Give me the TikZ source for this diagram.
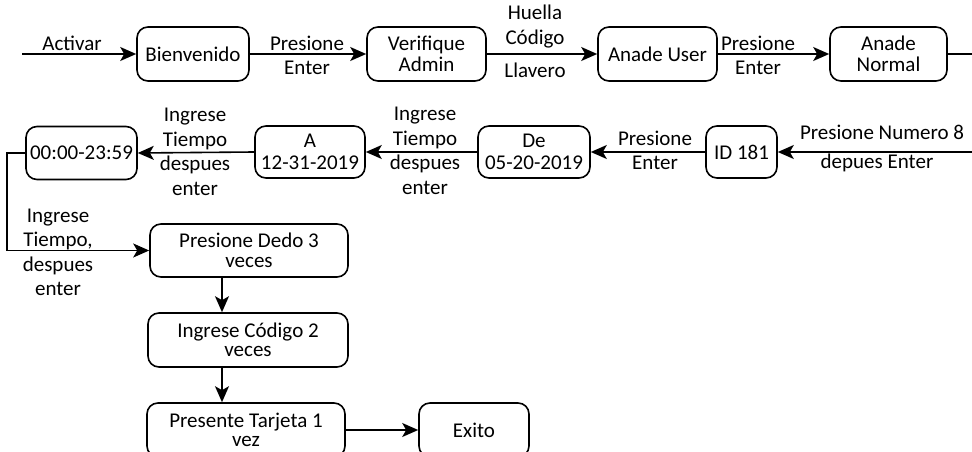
\documentclass[tikz,border=0pt]{standalone}
\usepackage{fontspec}
\setmainfont{Carlito}
\usetikzlibrary{arrows.meta}
\begin{document}
\begin{tikzpicture}[x=1pt,y=-1pt,
  every node/.style={font=\fontsize{21}{24.5}\selectfont, align=center, inner sep=0pt},
  box/.style={draw, line width=1.6pt, rounded corners=11pt, font=\fontsize{21}{21.5}\selectfont},
  wide/.style={box, font=\fontsize{21}{19.5}\selectfont},
  flow/.style={line width=1.6pt, -{Stealth[length=16pt,width=14pt,inset=4pt]}},
  plain/.style={line width=1.6pt}]
\useasboundingbox (0,0) rectangle (972,452);
\clip (0,0) rectangle (972,452);
% nodes
\node[box, minimum width=112pt, minimum height=54pt] (bien) at (193,54) {Bienvenido};
\node[box, minimum width=119pt, minimum height=54pt] (verif) at (426.5,54) {Verifique\\Admin};
\node[box, minimum width=119pt, minimum height=54pt] (user) at (657.5,54) {Anade User};
\node[box, minimum width=117pt, minimum height=54pt] (normal) at (888.5,54) {Anade\\Normal};
\node[box, minimum width=71pt, minimum height=52pt] (id) at (741.5,152) {ID 181};
\node[box, minimum width=112pt, minimum height=52pt] (de) at (534,152) {De\\05-20-2019};
\node[box, minimum width=110pt, minimum height=52pt] (a) at (310,152) {A\\12-31-2019};
\node[box, minimum width=111pt, minimum height=53pt] (time) at (81.5,153) {00:00-23:59};
\node[wide, minimum width=198pt, minimum height=53pt] (dedo) at (249,250.5) {Presione Dedo 3\\veces};
\node[wide, minimum width=200pt, minimum height=54pt] (codigo) at (248,340) {Ingrese Código 2\\veces};
\node[wide, minimum width=198pt, minimum height=54pt] (tarjeta) at (246,430) {Presente Tarjeta 1\\vez};
\node[box, minimum width=110pt, minimum height=54pt] (exito) at (474,430) {Exito};
% free ends
\coordinate (start) at (22,54);
\coordinate (outr) at (972,54);
\coordinate (inr) at (972,152);
\coordinate (lx) at (7,0);
\coordinate (ax) at (222,0);
% connectors
\draw[flow] (start) -- (bien.west);
\node (l1) at (72,43) {Activar};
\draw[flow] (bien.east) -- (verif.west);
\node (l2) at (307,55.5) {Presione\\Enter};
\draw[flow] (verif.east) -- (user.west);
\node (l3) at (535,26.5) {Huella\\Código};
\node (l4) at (535,70) {Llavero};
\draw[flow] (user.east) -- (normal.west);
\node (l5) at (758,55.5) {Presione\\Enter};
\draw[plain] (normal.east) -- (outr);
\draw[flow] (inr) -- (id.east);
\node (l6) at (882,132) {Presione Numero 8};
\node (l7) at (877,163) {depues Enter};
\draw[flow] (id.west) -- (de.east);
\node (l8) at (655,150.5) {Presione\\Enter};
\draw[flow] (de.west) -- (a.east);
\node (l9) at (425,151) {Ingrese\\Tiempo\\despues\\enter};
\draw[flow] (a.west) -- (time.east);
\node (l10) at (195,152) {Ingrese\\Tiempo\\despues\\enter};
\draw[flow] (time.west) -- (time.west -| lx) -- (dedo.west -| lx) -- (dedo.west);
\node (l11) at (58,252.5) {Ingrese\\Tiempo,\\despues\\enter};
\draw[flow] (dedo.south -| ax) -- (codigo.north -| ax);
\draw[flow] (codigo.south -| ax) -- (tarjeta.north -| ax);
\draw[flow] (tarjeta.east) -- (exito.west);
\end{tikzpicture}
\end{document}
